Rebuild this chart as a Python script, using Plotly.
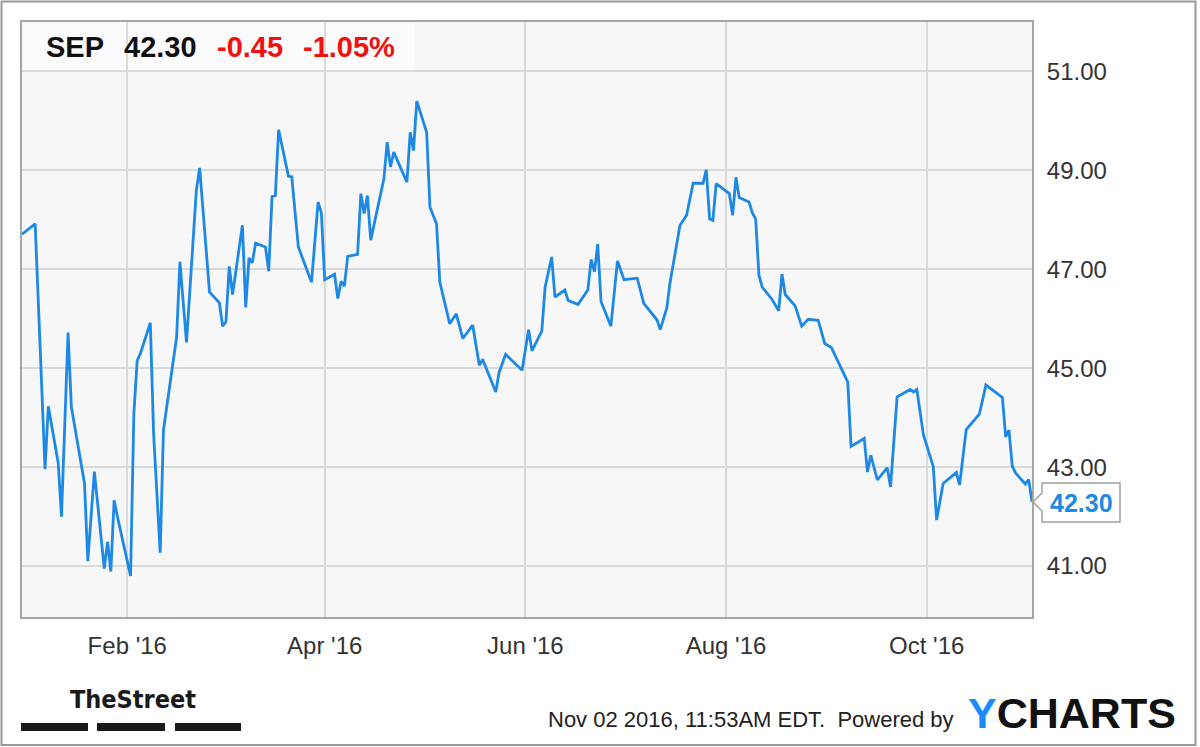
import plotly.graph_objects as go

# ---------------- data ----------------
ticker = "SEP"
last_price = 42.30
change_abs = -0.45
change_pct = -1.05

dates = [
    "2015-12-31", "2016-01-04", "2016-01-07", "2016-01-08", "2016-01-11", "2016-01-12",
    "2016-01-14", "2016-01-15", "2016-01-19", "2016-01-20", "2016-01-22", "2016-01-25",
    "2016-01-26", "2016-01-27", "2016-01-28", "2016-01-29", "2016-02-02", "2016-02-03",
    "2016-02-04", "2016-02-05", "2016-02-08", "2016-02-09", "2016-02-11", "2016-02-12",
    "2016-02-16", "2016-02-17", "2016-02-19", "2016-02-22", "2016-02-23", "2016-02-26",
    "2016-02-29", "2016-03-01", "2016-03-02", "2016-03-03", "2016-03-04", "2016-03-07",
    "2016-03-08", "2016-03-09", "2016-03-10", "2016-03-11", "2016-03-14", "2016-03-15",
    "2016-03-16", "2016-03-17", "2016-03-18", "2016-03-21", "2016-03-22", "2016-03-24",
    "2016-03-28", "2016-03-30", "2016-03-31", "2016-04-01", "2016-04-04", "2016-04-05",
    "2016-04-06", "2016-04-07", "2016-04-08", "2016-04-11", "2016-04-12", "2016-04-13",
    "2016-04-14", "2016-04-15", "2016-04-19", "2016-04-20", "2016-04-21", "2016-04-22",
    "2016-04-26", "2016-04-27", "2016-04-28", "2016-04-29", "2016-05-02", "2016-05-03",
    "2016-05-05", "2016-05-06", "2016-05-09", "2016-05-11", "2016-05-13", "2016-05-16",
    "2016-05-18", "2016-05-19", "2016-05-23", "2016-05-24", "2016-05-26", "2016-05-31",
    "2016-06-02", "2016-06-03", "2016-06-06", "2016-06-07", "2016-06-09", "2016-06-10",
    "2016-06-13", "2016-06-14", "2016-06-17", "2016-06-20", "2016-06-21", "2016-06-22",
    "2016-06-23", "2016-06-24", "2016-06-27", "2016-06-29", "2016-07-01", "2016-07-05",
    "2016-07-07", "2016-07-11", "2016-07-12", "2016-07-14", "2016-07-15", "2016-07-18",
    "2016-07-20", "2016-07-22", "2016-07-25", "2016-07-26", "2016-07-27", "2016-07-28",
    "2016-07-29", "2016-08-02", "2016-08-03", "2016-08-04", "2016-08-05", "2016-08-08",
    "2016-08-09", "2016-08-10", "2016-08-11", "2016-08-12", "2016-08-15", "2016-08-17",
    "2016-08-18", "2016-08-19", "2016-08-22", "2016-08-24", "2016-08-26", "2016-08-29",
    "2016-08-31", "2016-09-02", "2016-09-06", "2016-09-07", "2016-09-08", "2016-09-12",
    "2016-09-13", "2016-09-14", "2016-09-16", "2016-09-19", "2016-09-20", "2016-09-22",
    "2016-09-26", "2016-09-27", "2016-09-28", "2016-09-30", "2016-10-03", "2016-10-04",
    "2016-10-06", "2016-10-10", "2016-10-11", "2016-10-12", "2016-10-13", "2016-10-17",
    "2016-10-19", "2016-10-24", "2016-10-25", "2016-10-26", "2016-10-27", "2016-10-28",
    "2016-10-31", "2016-11-01", "2016-11-02",
]

prices = [
    47.71, 47.92, 42.96, 44.23, 43.09, 42.00,
    45.72, 44.22, 42.67, 41.10, 42.91, 40.95,
    41.49, 40.89, 42.33, 42.00, 40.80, 44.08,
    45.15, 45.30, 45.92, 43.68, 41.27, 43.75,
    45.63, 47.15, 45.52, 48.60, 49.05, 46.54,
    46.32, 45.85, 45.94, 47.06, 46.49, 47.89,
    46.23, 47.23, 47.13, 47.53, 47.45, 46.96,
    48.47, 48.49, 49.82, 48.88, 48.87, 47.45,
    46.74, 48.36, 48.14, 46.79, 46.90, 46.41,
    46.76, 46.66, 47.26, 47.30, 48.53, 48.13,
    48.49, 47.59, 48.83, 49.57, 49.07, 49.37,
    48.76, 49.77, 49.40, 50.40, 49.77, 48.26,
    47.92, 46.74, 45.90, 46.10, 45.60, 45.87,
    45.06, 45.18, 44.52, 44.91, 45.28, 44.96,
    45.78, 45.35, 45.75, 46.64, 47.25, 46.44,
    46.58, 46.37, 46.29, 46.58, 47.20, 46.95,
    47.51, 46.35, 45.85, 47.17, 46.79, 46.82,
    46.31, 45.98, 45.78, 46.22, 46.74, 47.89,
    48.09, 48.74, 48.74, 49.01, 48.02, 47.99,
    48.73, 48.53, 48.09, 48.86, 48.45, 48.36,
    48.14, 48.02, 46.88, 46.64, 46.39, 46.16,
    46.90, 46.49, 46.26, 45.85, 45.99, 45.97,
    45.50, 45.42, 44.86, 44.72, 43.42, 43.58,
    42.90, 43.24, 42.74, 42.99, 42.60, 44.42,
    44.57, 44.52, 44.57, 43.65, 43.01, 41.93,
    42.67, 42.89, 42.64, 43.21, 43.76, 44.07,
    44.66, 44.41, 43.61, 43.75, 43.02, 42.88,
    42.66, 42.75, 42.30,
]

x_tick_dates = ["2016-02-01", "2016-04-01", "2016-06-01", "2016-08-01", "2016-10-01"]
x_tick_labels = ["Feb '16", "Apr '16", "Jun '16", "Aug '16", "Oct '16"]
y_tick_values = [41, 43, 45, 47, 49, 51]
y_tick_labels = ["41.00", "43.00", "45.00", "47.00", "49.00", "51.00"]

footer_text = "Nov 02 2016, 11:53AM EDT.  Powered by"

# ---------------- layout geometry ----------------
FIG_W, FIG_H = 1200, 747
L, T, R, B = 22, 22, 1032, 617
PW, PH = R - L, B - T

def px(x):
    return (x - L) / PW

def py(y):
    return (B - y) / PH

LINE_BLUE = "#1e88e5"
FONT = "Liberation Sans, Arial, Helvetica, sans-serif"

fig = go.Figure()
fig.add_trace(go.Scatter(
    x=dates, y=prices, mode="lines",
    line=dict(color=LINE_BLUE, width=2.8),
    hoverinfo="skip", showlegend=False,
))

fig.update_layout(
    width=FIG_W, height=FIG_H,
    margin=dict(l=L, r=FIG_W - R, t=T, b=FIG_H - B, pad=0),
    paper_bgcolor="white",
    plot_bgcolor="#f7f7f7",
    font=dict(family=FONT, color="#333333", size=24),
    showlegend=False,
    xaxis=dict(
        range=["2015-12-31", "2016-11-02"],
        tickvals=x_tick_dates, ticktext=x_tick_labels,
        showgrid=True, gridcolor="#dadada", gridwidth=2,
        showline=True, linecolor="#a6a6a6", linewidth=2, mirror=True,
        ticks="", ticklabelstandoff=6,
        tickfont=dict(size=24, color="#333333", family=FONT),
        zeroline=False, fixedrange=True,
    ),
    yaxis=dict(
        range=[39.97, 52.0], side="right",
        tickvals=y_tick_values, ticktext=y_tick_labels,
        showgrid=True, gridcolor="#dadada", gridwidth=2,
        showline=True, linecolor="#a6a6a6", linewidth=2, mirror=True,
        ticks="", ticklabelstandoff=8,
        tickfont=dict(size=24, color="#333333", family=FONT),
        zeroline=False, fixedrange=True,
    ),
)

shapes = []
# header backdrop
shapes.append(dict(type="rect", xref="paper", yref="paper",
                   x0=px(23), x1=px(415), y0=py(72), y1=py(23),
                   fillcolor="rgba(255,255,255,0.55)", line=dict(width=0), layer="below"))
# outer frame
shapes.append(dict(type="rect", xref="paper", yref="paper",
                   x0=px(1.5), x1=px(1195.5), y0=py(745), y1=py(1.5),
                   line=dict(color="#9a9a9a", width=2), fillcolor="rgba(0,0,0,0)", layer="above"))
# last-price callout box with notch
pts = [(1033, 502), (1042, 493), (1042, 483), (1120, 483), (1120, 522), (1042, 522), (1042, 511)]
path = "M " + " L ".join(f"{px(a):.5f},{py(b):.5f}" for a, b in pts) + " Z"
shapes.append(dict(type="path", xref="paper", yref="paper", path=path,
                   fillcolor="white", line=dict(color="#a0a0a0", width=1.5), layer="above"))
# TheStreet bars
for x0, x1 in [(21, 88), (97, 165), (175, 241)]:
    shapes.append(dict(type="rect", xref="paper", yref="paper",
                       x0=px(x0), x1=px(x1), y0=py(731), y1=py(723),
                       fillcolor="#1a1a1a", line=dict(width=0), layer="above"))
fig.update_layout(shapes=shapes)

ann = []
def add_text(text, x, y, size, color, bold=False, xanchor="left", family=FONT):
    ann.append(dict(text=f"<b>{text}</b>" if bold else text,
                    xref="paper", yref="paper", x=px(x), y=py(y),
                    xanchor=xanchor, yanchor="middle", showarrow=False,
                    font=dict(size=size, color=color, family=family)))

# header
add_text(ticker, 44, 47, 29, "#111111", bold=True)
add_text(f"{last_price:.2f}", 122, 47, 29, "#111111", bold=True)
add_text(f"{change_abs:.2f}", 215, 47, 29, "#ee1111", bold=True)
add_text(f"{change_pct:.2f}%", 301, 47, 29, "#ee1111", bold=True)
# last-price callout text
add_text(f"{prices[-1]:.2f}", 1081, 503, 25, LINE_BLUE, bold=True, xanchor="center")
# footer
add_text("TheStreet", 133, 699, 25, "#1a1a1a", bold=True, xanchor="center",
         family="Liberation Sans Narrow, DejaVu Sans Condensed, Arial Narrow, sans-serif")
add_text(footer_text, 546, 719, 22, "#222222")
ann.append(dict(text="<b><span style='color:#1a8cff'>Y</span>CHARTS</b>",
                xref="paper", yref="paper", x=px(1178), y=py(713),
                xanchor="right", yanchor="middle", showarrow=False,
                font=dict(size=43, color="#111111", family=FONT)))
fig.update_layout(annotations=ann)

# remove default page margin so the figure sits at the window origin
fig.write_html("out.html", config={"displayModeBar": False},
               post_script="document.body.style.margin='0';")
